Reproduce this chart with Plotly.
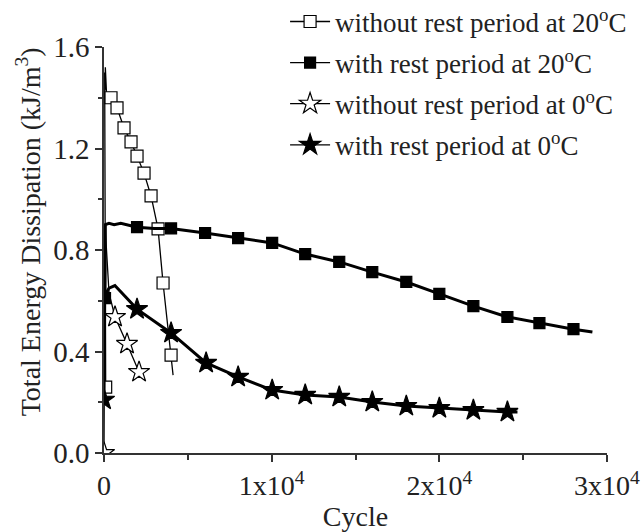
import plotly.graph_objects as go

# ---- data ----
# without rest period at 20 C (open squares)
s1_x = [100, 20, 40, 60, 80, 110, 150, 418, 776, 1194, 1612, 1970, 2388, 2806, 3224, 3522, 4000, 4120]
s1_y = [0.26, 1.45, 1.50, 1.43, 1.52, 1.44, 1.42, 1.40, 1.36, 1.281, 1.226, 1.170, 1.103, 1.013,
        0.883, 0.670, 0.386, 0.307]
s1_mx = [100, 418, 776, 1194, 1612, 1970, 2388, 2806, 3224, 3522, 4000]
s1_my = [0.26, 1.40, 1.36, 1.281, 1.226, 1.170, 1.103, 1.013, 0.883, 0.670, 0.386]

# with rest period at 20 C (filled squares)
s2_x = [60, 80, 300, 600, 1000, 1970, 3000, 4000, 6030, 8000, 10030,
        12000, 14030, 16000, 18030, 20000, 22030, 24060, 25970, 28000, 29130]
s2_y = [0.61, 0.90, 0.905, 0.90, 0.905, 0.89, 0.885, 0.885, 0.867,
        0.847, 0.828, 0.784, 0.753, 0.713, 0.674, 0.627, 0.579, 0.536, 0.512, 0.488, 0.477]
s2_mx = [60, 1970, 4000, 6030, 8000, 10030, 12000, 14030, 16000, 18030, 20000, 22030, 24060, 25970, 28000]
s2_my = [0.61, 0.89, 0.885, 0.867, 0.847, 0.828, 0.784, 0.753, 0.713, 0.674, 0.627, 0.579, 0.536, 0.512, 0.488]

# without rest period at 0 C (open stars)
s3_x = [0, 60, 300, 657, 1373, 2090]
s3_y = [0.0, 0.90, 0.63, 0.536, 0.43, 0.319]
s3_mx = [0, 657, 1373, 2090]
s3_my = [0.0, 0.536, 0.43, 0.319]

# with rest period at 0 C (filled stars)
s4_x = [0, 40, 300, 650, 1970, 4000, 6090, 8000, 10030, 12000, 14030, 16000, 18030,
        20000, 22030, 24060, 24660]
s4_y = [0.21, 0.62, 0.65, 0.66, 0.567, 0.473, 0.355, 0.30, 0.248, 0.229, 0.221, 0.201,
        0.185, 0.177, 0.169, 0.162, 0.162]
s4_mx = [0, 1970, 4000, 6090, 8000, 10030, 12000, 14030, 16000, 18030, 20000, 22030, 24060]
s4_my = [0.21, 0.567, 0.473, 0.355, 0.30, 0.248, 0.229, 0.221, 0.201, 0.185, 0.177, 0.169, 0.162]

names = ["without rest period at 20<sup>o</sup>C",
         "with rest period at 20<sup>o</sup>C",
         "without rest period at 0<sup>o</sup>C",
         "with rest period at 0<sup>o</sup>C"]

x_tickvals = [0, 10000, 20000, 30000]
x_ticktext = ["0", "1x10<sup>4</sup>", "2x10<sup>4</sup>", "3x10<sup>4</sup>"]
y_tickvals = [0.0, 0.4, 0.8, 1.2, 1.6]
y_ticktext = ["0.0", "0.4", "0.8", "1.2", "1.6"]

FONT = "Liberation Serif"

series = [
    (s1_x, s1_y, s1_mx, s1_my, "square", "white", 12, 1.3),
    (s2_x, s2_y, s2_mx, s2_my, "square", "black", 11, 3.0),
    (s3_x, s3_y, s3_mx, s3_my, "star", "white", 16, 1.3),
    (s4_x, s4_y, s4_mx, s4_my, "star", "black", 16, 3.0),
]

fig = go.Figure()
for i, (cx, cy, mx, my, sym, fill, ms, lw) in enumerate(series):
    fig.add_trace(go.Scatter(x=cx, y=cy, mode="lines",
                             line=dict(color="black", width=lw),
                             showlegend=False, legendgroup=str(i), hoverinfo="skip"))
    # isolate markers so no extra segments are drawn; legend still shows line+marker
    gx, gy = [], []
    for a, b in zip(mx, my):
        gx += [a, None]
        gy += [b, None]
    fig.add_trace(go.Scatter(x=gx, y=gy, mode="lines+markers", name=names[i],
                             connectgaps=False, legendgroup=str(i),
                             line=dict(color="black", width=1.3),
                             marker=dict(symbol=sym, size=ms, color=fill,
                                         line=dict(color="black", width=1.2))))

axis_common = dict(showline=True, linecolor="#333333", linewidth=1.5, ticks="outside",
                   ticklen=7, tickwidth=1.5, tickcolor="#333333", showgrid=False, zeroline=False,
                   ticklabeloverflow="allow")

fig.update_layout(
    width=641, height=532,
    margin=dict(l=104, r=34, t=47, b=79, autoexpand=False),
    paper_bgcolor="white", plot_bgcolor="white",
    font=dict(family=FONT, size=27, color="#222222"),
    xaxis=dict(range=[0, 30000], tickvals=x_tickvals, ticktext=x_ticktext,
               tickfont=dict(family=FONT, size=28, color="#222222"),
               minor=dict(tickvals=[5000, 15000, 25000], ticks="outside", ticklen=5,
                          tickwidth=1.5, tickcolor="#333333"),
               title=dict(text="Cycle", font=dict(family=FONT, size=28), standoff=6),
               **axis_common),
    yaxis=dict(range=[0, 1.6], tickvals=y_tickvals, ticktext=y_ticktext,
               tickfont=dict(family=FONT, size=29, color="#222222"),
               minor=dict(tickvals=[0.2, 0.6, 1.0, 1.4], ticks="outside", ticklen=4,
                          tickwidth=1.5, tickcolor="#333333"),
               **axis_common),
    annotations=[dict(text="Total Energy Dissipation (kJ/m<sup>3</sup>)", textangle=-90,
                      xref="paper", yref="paper", x=-0.15, y=0.545,
                      xanchor="center", yanchor="middle", showarrow=False,
                      font=dict(family=FONT, size=28, color="#222222"))],
    legend=dict(x=0.36, y=1.122, xanchor="left", yanchor="top",
                bgcolor="rgba(0,0,0,0)", font=dict(family=FONT, size=27, color="#222222"),
                tracegroupgap=3, itemwidth=40),
)

fig.write_html("out.html")
